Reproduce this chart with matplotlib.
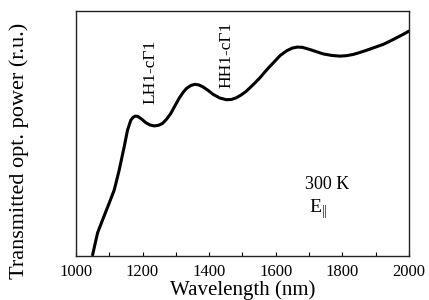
import numpy as np
import matplotlib
matplotlib.use("Agg")
import matplotlib.pyplot as plt

plt.rcParams['font.family'] = ['Liberation Serif', 'DejaVu Serif']
plt.rcParams['mathtext.fontset'] = 'custom'
plt.rcParams['mathtext.rm'] = 'Liberation Serif'

# transmitted power (relative units)
wavelength = [1050, 1065, 1080, 1100, 1115, 1130, 1145, 1155, 1165, 1172,
              1178, 1185, 1190, 1200, 1210, 1222, 1235, 1247, 1260, 1272,
              1285, 1297, 1310, 1322, 1332, 1345, 1357, 1370, 1382, 1397,
              1412, 1432, 1452, 1467, 1482, 1497, 1512, 1532, 1553, 1573,
              1593, 1613, 1633, 1650, 1665, 1680, 1703, 1723, 1743, 1768,
              1793, 1813, 1833, 1853, 1873, 1898, 1923, 1943, 1963, 1983,
              2000]
power = [0.004, 0.094, 0.147, 0.216, 0.269, 0.351, 0.446, 0.514, 0.555, 0.566,
         0.571, 0.570, 0.566, 0.556, 0.544, 0.535, 0.531, 0.533, 0.541, 0.558,
         0.582, 0.612, 0.644, 0.668, 0.684, 0.696, 0.701, 0.698, 0.690, 0.676,
         0.660, 0.645, 0.638, 0.639, 0.646, 0.658, 0.673, 0.699, 0.728, 0.760,
         0.789, 0.818, 0.838, 0.849, 0.853, 0.852, 0.843, 0.834, 0.825, 0.819,
         0.816, 0.818, 0.823, 0.831, 0.840, 0.852, 0.864, 0.877, 0.891, 0.905,
         0.918]

fig = plt.figure(figsize=(4.29, 3.0), dpi=100)
ax = fig.add_axes([0.177, 0.147, 0.776, 0.816])

ax.plot(wavelength, power, color='black', lw=2.2,
        solid_capstyle='round', solid_joinstyle='round')

ax.set_xlim(1000, 2000)
ax.set_ylim(0, 1)
ax.set_xticks(np.arange(1000, 2001, 200))
ax.set_xticks(np.arange(1100, 2000, 200), minor=True)
ax.tick_params(axis='x', which='both', direction='in', length=3, width=0.8,
               labelsize=12, pad=6)
ax.set_yticks([])
for s in ax.spines.values():
    s.set_linewidth(1.0)
    s.set_color('#222222')

ax.set_xlabel('Wavelength (nm)', fontsize=15, labelpad=0)
ax.set_ylabel('Transmitted opt. power (r.u.)', fontsize=16)
ax.yaxis.set_label_coords(-0.14, 0.43)

ax.text(1225, 0.75, 'LH1-c\u03931', rotation=90, fontsize=12.5,
        ha='center', va='center')
ax.text(1453, 0.82, 'HH1-c\u03931', rotation=90, fontsize=12.5,
        ha='center', va='center')
ax.text(1754, 0.29, '300 K', fontsize=13, ha='center', va='center')
ax.text(1700, 0.19, r'E$_{\mathregular{||}}$', fontsize=14, ha='left', va='center')

fig.savefig('out.png', dpi=100)
